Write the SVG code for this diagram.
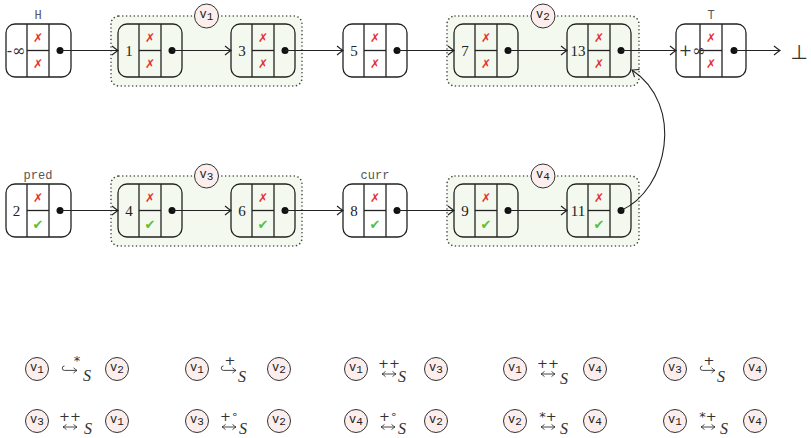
<svg xmlns="http://www.w3.org/2000/svg" width="811" height="438" viewBox="0 0 811 438">
<defs>
<marker id="arr" markerUnits="userSpaceOnUse" markerWidth="12" markerHeight="12" refX="0" refY="0" viewBox="-7 -6 8 12" orient="auto">
<path d="M-6,-4.5 Q-2,-1.2 0,0 Q-2,1.2 -6,4.5" fill="none" stroke="#222" stroke-width="1.1"/>
</marker>
<marker id="sa" markerUnits="userSpaceOnUse" markerWidth="8" markerHeight="8" refX="0" refY="0" viewBox="-5 -4 6 8" orient="auto-start-reverse">
<path d="M-3.5,-2.6 Q-1.2,-0.6 0,0 Q-1.2,0.6 -3.5,2.6" fill="none" stroke="#333" stroke-width="0.9"/>
</marker>
<style>
.bg{fill:#fff}
.grp{fill:#f3f9ee;stroke:#444;stroke-width:1.6;stroke-dasharray:0.01 3.8;stroke-linecap:round}
.nb{fill:none;stroke:#222;stroke-width:1.3}
.dv{stroke:#222;stroke-width:1.3}
.dot{fill:#111}
.num{font-family:"Liberation Serif","DejaVu Serif",serif;font-size:15px;fill:#222;text-anchor:middle}
.inf{font-family:"DejaVu Serif",serif;font-size:16px;fill:#333;text-anchor:middle}
.x{font-family:"DejaVu Sans",sans-serif;font-size:12px;fill:#e8302c;text-anchor:middle}
.ok{font-family:"DejaVu Sans",sans-serif;font-size:13px;fill:#5cbf3c;text-anchor:middle}
.tt{font-family:"Liberation Mono","DejaVu Sans Mono",monospace;font-size:12px;fill:#555;text-anchor:middle}
.vc{fill:#fdeeee;stroke:#333;stroke-width:1}
.vt{font-family:"Liberation Mono","DejaVu Sans Mono",monospace;font-size:12px;fill:#222;text-anchor:middle}
.conn{fill:none;stroke:#222;stroke-width:1.1;marker-end:url(#arr)}
.hk{fill:none;stroke:#333;stroke-width:0.9;marker-end:url(#sa)}
.lr{fill:none;stroke:#333;stroke-width:0.9;marker-start:url(#sa);marker-end:url(#sa)}
.ov{font-family:"DejaVu Sans",sans-serif;fill:#333;text-anchor:middle;font-size:13px}
.s{font-family:"Liberation Serif","DejaVu Serif",serif;font-style:italic;font-size:16px;fill:#333}
</style>
</defs>
<rect class="bg" x="0" y="0" width="811" height="438"/>

<!-- groups -->
<g id="group-v1"><rect class="grp" x="111" y="16" width="191" height="70" rx="8"/><circle class="vc" cx="206.5" cy="16" r="12"/><text class="vt" x="206.5" y="18">v<tspan font-size="11" dy="2">1</tspan></text></g>
<g id="group-v2"><rect class="grp" x="447" y="16" width="192" height="70" rx="8"/><circle class="vc" cx="543" cy="16" r="12"/><text class="vt" x="543" y="18">v<tspan font-size="11" dy="2">2</tspan></text></g>
<g id="group-v3"><rect class="grp" x="111" y="176" width="191" height="70" rx="8"/><circle class="vc" cx="206.5" cy="176" r="12"/><text class="vt" x="206.5" y="178">v<tspan font-size="11" dy="2">3</tspan></text></g>
<g id="group-v4"><rect class="grp" x="447" y="176" width="192" height="70" rx="8"/><circle class="vc" cx="543" cy="176" r="12"/><text class="vt" x="543" y="178">v<tspan font-size="11" dy="2">4</tspan></text></g>

<!-- top row nodes -->
<g id="node-H"><rect class="bg" x="6" y="24" width="65" height="53" rx="9"/><rect class="nb" x="6" y="24" width="65" height="53" rx="9"/><line class="dv" x1="27" y1="24" x2="27" y2="77"/><line class="dv" x1="49" y1="24" x2="49" y2="77"/><line class="dv" x1="27" y1="50.5" x2="49" y2="50.5"/><circle class="dot" cx="60" cy="50.5" r="3.5"/><text class="inf" x="16" y="56">-∞</text><text class="x" x="38" y="42">✗</text><text class="x" x="38" y="68">✗</text><text class="tt" x="38" y="19">H</text></g>
<g id="node-1"><rect class="nb" x="118" y="24" width="64" height="53" rx="9"/><line class="dv" x1="139" y1="24" x2="139" y2="77"/><line class="dv" x1="161" y1="24" x2="161" y2="77"/><line class="dv" x1="139" y1="50.5" x2="161" y2="50.5"/><circle class="dot" cx="172" cy="50.5" r="3.5"/><text class="num" x="129" y="56">1</text><text class="x" x="150" y="42">✗</text><text class="x" x="150" y="68">✗</text></g>
<g id="node-3"><rect class="nb" x="231" y="24" width="64" height="53" rx="9"/><line class="dv" x1="252" y1="24" x2="252" y2="77"/><line class="dv" x1="274" y1="24" x2="274" y2="77"/><line class="dv" x1="252" y1="50.5" x2="274" y2="50.5"/><circle class="dot" cx="285" cy="50.5" r="3.5"/><text class="num" x="242" y="56">3</text><text class="x" x="263" y="42">✗</text><text class="x" x="263" y="68">✗</text></g>
<g id="node-5"><rect class="bg" x="343" y="24" width="64" height="53" rx="9"/><rect class="nb" x="343" y="24" width="64" height="53" rx="9"/><line class="dv" x1="364" y1="24" x2="364" y2="77"/><line class="dv" x1="386" y1="24" x2="386" y2="77"/><line class="dv" x1="364" y1="50.5" x2="386" y2="50.5"/><circle class="dot" cx="397" cy="50.5" r="3.5"/><text class="num" x="354" y="56">5</text><text class="x" x="375" y="42">✗</text><text class="x" x="375" y="68">✗</text></g>
<g id="node-7"><rect class="nb" x="454" y="24" width="64" height="53" rx="9"/><line class="dv" x1="475" y1="24" x2="475" y2="77"/><line class="dv" x1="497" y1="24" x2="497" y2="77"/><line class="dv" x1="475" y1="50.5" x2="497" y2="50.5"/><circle class="dot" cx="508" cy="50.5" r="3.5"/><text class="num" x="465" y="56">7</text><text class="x" x="486" y="42">✗</text><text class="x" x="486" y="68">✗</text></g>
<g id="node-13"><rect class="nb" x="567" y="24" width="64" height="53" rx="9"/><line class="dv" x1="588" y1="24" x2="588" y2="77"/><line class="dv" x1="610" y1="24" x2="610" y2="77"/><line class="dv" x1="588" y1="50.5" x2="610" y2="50.5"/><circle class="dot" cx="621" cy="50.5" r="3.5"/><text class="num" x="578" y="56">13</text><text class="x" x="599" y="42">✗</text><text class="x" x="599" y="68">✗</text></g>
<g id="node-T"><rect class="bg" x="676" y="24" width="70" height="53" rx="9"/><rect class="nb" x="676" y="24" width="70" height="53" rx="9"/><line class="dv" x1="700" y1="24" x2="700" y2="77"/><line class="dv" x1="722" y1="24" x2="722" y2="77"/><line class="dv" x1="700" y1="50.5" x2="722" y2="50.5"/><circle class="dot" cx="734" cy="50.5" r="3.5"/><text class="inf" x="692" y="56">+∞</text><text class="x" x="711" y="42">✗</text><text class="x" x="711" y="68">✗</text><text class="tt" x="711" y="19">T</text></g>
<g id="bottom-symbol"><text x="799" y="59" font-family="DejaVu Sans, sans-serif" font-size="20" fill="#333" text-anchor="middle">⊥</text></g>

<!-- bottom row nodes -->
<g id="node-2"><rect class="bg" x="6" y="184" width="65" height="53" rx="9"/><rect class="nb" x="6" y="184" width="65" height="53" rx="9"/><line class="dv" x1="27" y1="184" x2="27" y2="237"/><line class="dv" x1="49" y1="184" x2="49" y2="237"/><line class="dv" x1="27" y1="210.5" x2="49" y2="210.5"/><circle class="dot" cx="60" cy="210.5" r="3.5"/><text class="num" x="16.5" y="216">2</text><text class="x" x="38" y="202">✗</text><text class="ok" x="38" y="229">✔</text><text class="tt" x="38" y="179">pred</text></g>
<g id="node-4"><rect class="nb" x="118" y="184" width="64" height="53" rx="9"/><line class="dv" x1="139" y1="184" x2="139" y2="237"/><line class="dv" x1="161" y1="184" x2="161" y2="237"/><line class="dv" x1="139" y1="210.5" x2="161" y2="210.5"/><circle class="dot" cx="172" cy="210.5" r="3.5"/><text class="num" x="129" y="216">4</text><text class="x" x="150" y="202">✗</text><text class="ok" x="150" y="229">✔</text></g>
<g id="node-6"><rect class="nb" x="231" y="184" width="64" height="53" rx="9"/><line class="dv" x1="252" y1="184" x2="252" y2="237"/><line class="dv" x1="274" y1="184" x2="274" y2="237"/><line class="dv" x1="252" y1="210.5" x2="274" y2="210.5"/><circle class="dot" cx="285" cy="210.5" r="3.5"/><text class="num" x="242" y="216">6</text><text class="x" x="263" y="202">✗</text><text class="ok" x="263" y="229">✔</text></g>
<g id="node-8"><rect class="bg" x="343" y="184" width="64" height="53" rx="9"/><rect class="nb" x="343" y="184" width="64" height="53" rx="9"/><line class="dv" x1="364" y1="184" x2="364" y2="237"/><line class="dv" x1="386" y1="184" x2="386" y2="237"/><line class="dv" x1="364" y1="210.5" x2="386" y2="210.5"/><circle class="dot" cx="397" cy="210.5" r="3.5"/><text class="num" x="354" y="216">8</text><text class="x" x="375" y="202">✗</text><text class="ok" x="375" y="229">✔</text><text class="tt" x="375" y="179">curr</text></g>
<g id="node-9"><rect class="nb" x="454" y="184" width="64" height="53" rx="9"/><line class="dv" x1="475" y1="184" x2="475" y2="237"/><line class="dv" x1="497" y1="184" x2="497" y2="237"/><line class="dv" x1="475" y1="210.5" x2="497" y2="210.5"/><circle class="dot" cx="508" cy="210.5" r="3.5"/><text class="num" x="465" y="216">9</text><text class="x" x="486" y="202">✗</text><text class="ok" x="486" y="229">✔</text></g>
<g id="node-11"><rect class="nb" x="567" y="184" width="64" height="53" rx="9"/><line class="dv" x1="588" y1="184" x2="588" y2="237"/><line class="dv" x1="610" y1="184" x2="610" y2="237"/><line class="dv" x1="588" y1="210.5" x2="610" y2="210.5"/><circle class="dot" cx="621" cy="210.5" r="3.5"/><text class="num" x="578" y="216">11</text><text class="x" x="599" y="202">✗</text><text class="ok" x="599" y="229">✔</text></g>

<!-- connectors -->
<g id="connectors">
<line class="conn" x1="60" y1="50.5" x2="118" y2="50.5"/>
<line class="conn" x1="172" y1="50.5" x2="231" y2="50.5"/>
<line class="conn" x1="285" y1="50.5" x2="343" y2="50.5" stroke-width="1.6"/>
<line class="conn" x1="397" y1="50.5" x2="454" y2="50.5"/>
<line class="conn" x1="508" y1="50.5" x2="567" y2="50.5"/>
<line class="conn" x1="621" y1="50.5" x2="676" y2="50.5" stroke-width="1.4"/>
<line class="conn" x1="734" y1="50.5" x2="780" y2="50.5"/>
<line class="conn" x1="60" y1="210.5" x2="118" y2="210.5"/>
<line class="conn" x1="172" y1="210.5" x2="231" y2="210.5"/>
<line class="conn" x1="285" y1="210.5" x2="343" y2="210.5"/>
<line class="conn" x1="397" y1="210.5" x2="454" y2="210.5"/>
<line class="conn" x1="508" y1="210.5" x2="567" y2="210.5"/>
<path class="conn" d="M621,210.5 C668,190 685,105 632,70"/>
</g>

<!-- legend -->
<g id="legend">
<g id="rel-1"><circle class="vc" cx="37" cy="369" r="11.5"/><text class="vt" x="37" y="371">v<tspan font-size="11" dy="2">1</tspan></text><path class="hk" d="M64.5,366 A2.2,2.2 0 0 0 64.5,370.4 L77,370.4"/><text class="ov" x="77" y="365">*</text><text class="s" x="83" y="381">S</text><circle class="vc" cx="117" cy="369" r="11.5"/><text class="vt" x="117" y="371">v<tspan font-size="11" dy="2">2</tspan></text></g>
<g id="rel-2"><circle class="vc" cx="197" cy="369" r="11.5"/><text class="vt" x="197" y="371">v<tspan font-size="11" dy="2">1</tspan></text><path class="hk" d="M223.5,366 A2.2,2.2 0 0 0 223.5,370.4 L236,370.4"/><text class="ov" x="230" y="365" font-size="15">+</text><text class="s" x="238" y="382">S</text><circle class="vc" cx="279" cy="369" r="11.5"/><text class="vt" x="279" y="371">v<tspan font-size="11" dy="2">2</tspan></text></g>
<g id="rel-3"><circle class="vc" cx="356" cy="369" r="11.5"/><text class="vt" x="356" y="371">v<tspan font-size="11" dy="2">1</tspan></text><path class="lr" d="M382,374 L396,374"/><text class="ov" x="389" y="368">++</text><text class="s" x="398" y="382">S</text><circle class="vc" cx="436" cy="369" r="11.5"/><text class="vt" x="436" y="371">v<tspan font-size="11" dy="2">3</tspan></text></g>
<g id="rel-4"><circle class="vc" cx="515" cy="369" r="11.5"/><text class="vt" x="515" y="371">v<tspan font-size="11" dy="2">1</tspan></text><path class="lr" d="M541,374 L555,374"/><text class="ov" x="548" y="368">++</text><text class="s" x="560" y="384">S</text><circle class="vc" cx="595" cy="369" r="11.5"/><text class="vt" x="595" y="371">v<tspan font-size="11" dy="2">4</tspan></text></g>
<g id="rel-5"><circle class="vc" cx="675" cy="369" r="11.5"/><text class="vt" x="675" y="371">v<tspan font-size="11" dy="2">3</tspan></text><path class="hk" d="M702.5,366 A2.2,2.2 0 0 0 702.5,370.4 L715,370.4"/><text class="ov" x="709" y="365" font-size="15">+</text><text class="s" x="717" y="382">S</text><circle class="vc" cx="755" cy="369" r="11.5"/><text class="vt" x="755" y="371">v<tspan font-size="11" dy="2">4</tspan></text></g>

<g id="rel-6"><circle class="vc" cx="37" cy="421" r="11.5"/><text class="vt" x="37" y="423">v<tspan font-size="11" dy="2">3</tspan></text><path class="lr" d="M63,427 L77,427"/><text class="ov" x="70" y="421">++</text><text class="s" x="84" y="434">S</text><circle class="vc" cx="117" cy="421" r="11.5"/><text class="vt" x="117" y="423">v<tspan font-size="11" dy="2">1</tspan></text></g>
<g id="rel-7"><circle class="vc" cx="197" cy="421" r="11.5"/><text class="vt" x="197" y="423">v<tspan font-size="11" dy="2">3</tspan></text><path class="lr" d="M222,427 L236,427"/><text class="ov" x="229" y="421">+<tspan dy="-3" font-size="11">∘</tspan></text><text class="s" x="239" y="434">S</text><circle class="vc" cx="279" cy="421" r="11.5"/><text class="vt" x="279" y="423">v<tspan font-size="11" dy="2">2</tspan></text></g>
<g id="rel-8"><circle class="vc" cx="356" cy="421" r="11.5"/><text class="vt" x="356" y="423">v<tspan font-size="11" dy="2">4</tspan></text><path class="lr" d="M381,427 L395,427"/><text class="ov" x="388" y="421">+<tspan dy="-3" font-size="11">∘</tspan></text><text class="s" x="398" y="434">S</text><circle class="vc" cx="436" cy="421" r="11.5"/><text class="vt" x="436" y="423">v<tspan font-size="11" dy="2">2</tspan></text></g>
<g id="rel-9"><circle class="vc" cx="515" cy="421" r="11.5"/><text class="vt" x="515" y="423">v<tspan font-size="11" dy="2">2</tspan></text><path class="lr" d="M541,427 L555,427"/><text class="ov" x="548" y="421">*+</text><text class="s" x="560" y="434">S</text><circle class="vc" cx="595" cy="421" r="11.5"/><text class="vt" x="595" y="423">v<tspan font-size="11" dy="2">4</tspan></text></g>
<g id="rel-10"><circle class="vc" cx="675" cy="421" r="11.5"/><text class="vt" x="675" y="423">v<tspan font-size="11" dy="2">1</tspan></text><path class="lr" d="M701,427 L715,427"/><text class="ov" x="708" y="421">*+</text><text class="s" x="720" y="434">S</text><circle class="vc" cx="755" cy="421" r="11.5"/><text class="vt" x="755" y="423">v<tspan font-size="11" dy="2">4</tspan></text></g>
</g>
</svg>
